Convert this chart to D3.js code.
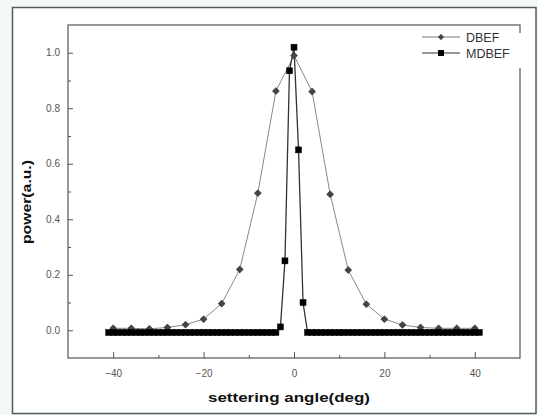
<!DOCTYPE html>
<html>
<head>
<meta charset="utf-8">
<script src="https://cdn.jsdelivr.net/npm/d3@7"></script>
<style>
  body { margin: 0; background: #f4f7f7; }
  svg { display: block; font-family: Arial, "Liberation Sans", sans-serif; }
</style>
</head>
<body>
<script>
const width = 538, height = 415;
const margin = { top: 25, right: 18, bottom: 57, left: 68 };

// DBEF series
const dbefAngle = [-40, -36, -32, -28, -24, -20, -16, -12, -8, -4, 0, 4, 8, 12, 16, 20, 24, 28, 32, 36, 40];
const dbefPower = [0.007, 0.007, 0.005, 0.01, 0.02, 0.04, 0.096, 0.219, 0.494, 0.862, 0.99,
                   0.86, 0.49, 0.217, 0.094, 0.04, 0.019, 0.01, 0.007, 0.007, 0.007];

// MDBEF series (dense sampling, 1 deg)
const mdbefAngle = [-41, -40, -39, -38, -37, -36, -35, -34, -33, -32, -31, -30, -29, -28, -27, -26, -25, -24, -23, -22,
                    -21, -20, -19, -18, -17, -16, -15, -14, -13, -12, -11, -10, -9, -8, -7, -6, -5, -4, -3, -2,
                    -1, 0, 1, 2, 3, 4, 5, 6, 7, 8, 9, 10, 11, 12, 13, 14, 15, 16, 17, 18,
                    19, 20, 21, 22, 23, 24, 25, 26, 27, 28, 29, 30, 31, 32, 33, 34, 35, 36, 37, 38,
                    39, 40, 41];
const mdbefPower = [-0.008, -0.008, -0.008, -0.008, -0.008, -0.008, -0.008, -0.008, -0.008, -0.008,
                    -0.008, -0.008, -0.008, -0.008, -0.008, -0.008, -0.008, -0.008, -0.008, -0.008,
                    -0.008, -0.008, -0.008, -0.008, -0.008, -0.008, -0.008, -0.008, -0.008, -0.008,
                    -0.008, -0.008, -0.008, -0.008, -0.008, -0.008, -0.008, -0.008, 0.012, 0.25,
                    0.935, 1.02, 0.65, 0.10, -0.008, -0.008, -0.008, -0.008, -0.008, -0.008,
                    -0.008, -0.008, -0.008, -0.008, -0.008, -0.008, -0.008, -0.008, -0.008, -0.008,
                    -0.008, -0.008, -0.008, -0.008, -0.008, -0.008, -0.008, -0.008, -0.008, -0.008,
                    -0.008, -0.008, -0.008, -0.008, -0.008, -0.008, -0.008, -0.008, -0.008, -0.008,
                    -0.008, -0.008, -0.008];

const xTicks = [-40, -20, 0, 20, 40];
const xMinor = [-30, -10, 10, 30];
const yTicks = [0.0, 0.2, 0.4, 0.6, 0.8, 1.0];
const yMinor = [0.1, 0.3, 0.5, 0.7, 0.9];
const seriesNames = ["DBEF", "MDBEF"];

const svg = d3.select("body").append("svg")
    .attr("width", width)
    .attr("height", height);

// outer frame
svg.append("rect")
    .attr("x", 12.5).attr("y", 7.5)
    .attr("width", 523.5).attr("height", 406)
    .attr("fill", "#fff")
    .attr("stroke", "#4f5c5c")
    .attr("stroke-width", 1.5);

var x = d3.scaleLinear().domain([-50, 50]).range([margin.left, width - margin.right]);
var y = d3.scaleLinear().domain([-0.1, 1.1]).range([height - margin.bottom, margin.top]);

var g = svg.append("g");

// plot frame
g.append("rect")
    .attr("x", x(-50)).attr("y", y(1.1))
    .attr("width", x(50) - x(-50))
    .attr("height", y(-0.1) - y(1.1))
    .attr("fill", "none")
    .attr("stroke", "#555")
    .attr("stroke-width", 1.2);

// axes (ticks point inward)
var xAxis = g.append("g")
    .attr("transform", "translate(0," + y(-0.1) + ")")
    .call(d3.axisBottom(x).tickValues(xTicks).tickSize(-6).tickPadding(12).tickFormat(d3.format("d")));
var xAxisMinor = g.append("g")
    .attr("transform", "translate(0," + y(-0.1) + ")")
    .call(d3.axisBottom(x).tickValues(xMinor).tickSize(-3).tickFormat(""));
var yAxis = g.append("g")
    .attr("transform", "translate(" + x(-50) + ",0)")
    .call(d3.axisLeft(y).tickValues(yTicks).tickSize(-5).tickPadding(8).tickFormat(d3.format(".1f")));
var yAxisMinor = g.append("g")
    .attr("transform", "translate(" + x(-50) + ",0)")
    .call(d3.axisLeft(y).tickValues(yMinor).tickSize(-3).tickFormat(""));

[xAxis, xAxisMinor, yAxis, yAxisMinor].forEach(function (a) {
    a.select(".domain").remove();
    a.selectAll("line").attr("stroke", "#555");
    a.selectAll("text")
        .attr("fill", "#555")
        .attr("font-size", 10)
        .attr("font-family", "Arial, 'Liberation Sans', sans-serif");
});

// axis titles
svg.append("text")
    .attr("x", 289).attr("y", 402)
    .attr("text-anchor", "middle")
    .attr("font-weight", "bold")
    .attr("font-size", 13)
    .attr("textLength", 162)
    .attr("lengthAdjust", "spacingAndGlyphs")
    .attr("fill", "#111")
    .text("settering angle(deg)");

svg.append("text")
    .attr("transform", "translate(31,202) rotate(-90)")
    .attr("text-anchor", "middle")
    .attr("font-weight", "bold")
    .attr("font-size", 13)
    .attr("textLength", 84)
    .attr("lengthAdjust", "spacingAndGlyphs")
    .attr("fill", "#111")
    .text("power(a.u.)");

var line = d3.line()
    .x(d => x(d[0]))
    .y(d => y(d[1]));

var dbef = d3.zip(dbefAngle, dbefPower);
var mdbef = d3.zip(mdbefAngle, mdbefPower);

// DBEF
g.append("path")
    .datum(dbef)
    .attr("d", line)
    .attr("fill", "none")
    .attr("stroke", "#888")
    .attr("stroke-width", 1);

// MDBEF
g.append("path")
    .datum(mdbef)
    .attr("d", line)
    .attr("fill", "none")
    .attr("stroke", "#333")
    .attr("stroke-width", 1.3);

// rounded diamond marker
var diamond = d3.symbol().type(d3.symbolSquare).size(20);

g.selectAll(".dbef")
    .data(dbef)
    .enter()
    .append("path")
    .attr("class", "dbef")
    .attr("transform", d => "translate(" + x(d[0]) + "," + y(d[1]) + ") rotate(45)")
    .attr("d", diamond)
    .attr("fill", "#444")
    .attr("stroke", "#444")
    .attr("stroke-width", 1)
    .attr("stroke-linejoin", "round");

g.selectAll(".mdbef")
    .data(mdbef)
    .enter()
    .append("rect")
    .attr("class", "mdbef")
    .attr("x", d => x(d[0]) - 3)
    .attr("y", d => y(d[1]) - 3)
    .attr("width", 6)
    .attr("height", 6)
    .attr("fill", "#000")
    .attr("stroke", "#000")
    .attr("stroke-width", 0.5);

// legend (white box over frame)
var legend = svg.append("g");
legend.append("rect")
    .attr("x", 418).attr("y", 33)
    .attr("width", 110).attr("height", 35)
    .attr("fill", "#fff");

seriesNames.forEach(function (name, i) {
    var ly = 37 + i * 16;
    legend.append("line")
        .attr("x1", 422).attr("x2", 460)
        .attr("y1", ly).attr("y2", ly)
        .attr("stroke", i == 0 ? "#777" : "#333")
        .attr("stroke-width", 1);
    if (i == 0) {
        legend.append("path")
            .attr("transform", "translate(441," + ly + ") rotate(45)")
            .attr("d", d3.symbol().type(d3.symbolSquare).size(12))
            .attr("fill", "#444")
            .attr("stroke", "#444")
            .attr("stroke-linejoin", "round");
    } else {
        legend.append("rect")
            .attr("x", 438).attr("y", ly - 3)
            .attr("width", 6).attr("height", 6)
            .attr("fill", "#000");
    }
    legend.append("text")
        .attr("x", 466).attr("y", ly + 4.5)
        .attr("font-size", 12.5)
        .attr("fill", "#333")
        .text(name);
});
</script>
</body>
</html>
